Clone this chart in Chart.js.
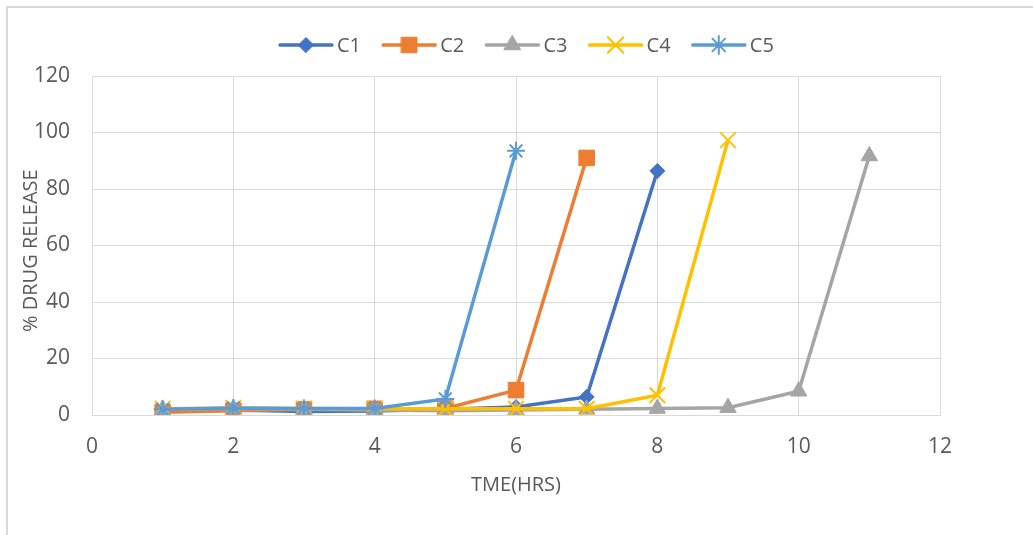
<!DOCTYPE html>
<html>
<head>
<meta charset="utf-8">
<script src="https://cdn.jsdelivr.net/npm/chart.js@4/dist/chart.umd.min.js"></script>
<style>
  body { margin: 0; background: #fff; }
  #wrap { position: relative; width: 1033px; height: 535px; }
</style>
</head>
<body>
<div id="wrap"><canvas id="releaseChart" width="1033" height="535"></canvas></div>
<script>
// datos
const horas = [1, 2, 3, 4, 5, 6, 7, 8, 9, 10, 11];
const series = ['C1', 'C2', 'C3', 'C4', 'C5'];
const c1 = [1.5, 1.8, 1.2, 1.4, 2.0, 2.8, 6.4, 86.4];
const c2 = [1.0, 1.5, 2.0, 2.2, 2.3, 8.8, 91.0];
const c3 = [2.0, 2.2, 2.0, 1.8, 1.5, 1.8, 2.0, 2.3, 2.6, 8.4, 91.7];
const c4 = [2.2, 2.5, 2.3, 2.2, 2.2, 2.2, 2.2, 7.0, 97.3];
const c5 = [2.0, 2.5, 2.3, 2.3, 5.7, 93.5];
const xTicks = [0, 2, 4, 6, 8, 10, 12];
const yTicks = [0, 20, 40, 60, 80, 100, 120];

const colores = ['#4472C4', '#ED7D31', '#A5A5A5', '#FFC000', '#5B9BD5'];
const estilos = ['rectRot', 'rect', 'triangle', 'crossRot', 'star'];
const radios = [7.5, 11, 9.5, 11, 9];
const fuente = "'Open Sans', 'Noto Sans', sans-serif";
const gris = '#d9d9d9';
const texto = '#595959';

function puntos(valores) {
    return valores.map((v, i) => ({ x: horas[i], y: v }));
}

const valores = [c1, c2, c3, c4, c5];
const datasets = series.map((nombre, i) => ({
    label: nombre,
    data: puntos(valores[i]),
    borderColor: colores[i],
    backgroundColor: colores[i],
    borderWidth: 3.5,
    pointStyle: estilos[i],
    pointRadius: radios[i],
    pointHoverRadius: radios[i],
    pointBorderWidth: (estilos[i] === 'crossRot' || estilos[i] === 'star') ? 2 : 1,
    order: series.length - i,
    tension: 0
}));

// marco exterior y leyenda dibujada a mano
const marcoYLeyenda = {
    id: 'marcoYLeyenda',
    beforeDraw(chart) {
        const ctx = chart.ctx;
        ctx.save();
        ctx.strokeStyle = gris;
        ctx.lineWidth = 2;
        ctx.beginPath();
        ctx.moveTo(7, 535);
        ctx.lineTo(7, 7);
        ctx.lineTo(1033, 7);
        ctx.stroke();
        ctx.restore();
    },
    afterDraw(chart) {
        const ctx = chart.ctx;
        const y = 45;
        ctx.save();
        series.forEach((nombre, i) => {
            const cx = 306 + i * 103.2;
            ctx.strokeStyle = colores[i];
            ctx.lineWidth = 3.5;
            ctx.lineCap = 'round';
            ctx.beginPath();
            ctx.moveTo(cx - 26, y);
            ctx.lineTo(cx + 26, y);
            ctx.stroke();
            ctx.fillStyle = colores[i];
            ctx.lineWidth = (estilos[i] === 'crossRot' || estilos[i] === 'star') ? 2 : 1;
            Chart.helpers.drawPoint(ctx, { pointStyle: estilos[i], radius: radios[i], borderWidth: ctx.lineWidth }, cx, y);
            ctx.fillStyle = texto;
            ctx.font = '20px ' + fuente;
            ctx.textAlign = 'left';
            ctx.textBaseline = 'middle';
            ctx.fillText(nombre, cx + 31, y + 1);
        });
        ctx.restore();
    }
};

const chart = new Chart(document.getElementById('releaseChart').getContext('2d'), {
    type: 'line',
    data: { datasets },
    options: {
        responsive: false,
        animation: false,
        layout: { padding: { top: 76, right: 93, left: 0, bottom: 0 } },
        plugins: {
            legend: { display: false },
            tooltip: { enabled: false }
        },
        scales: {
            x: {
                type: 'linear',
                min: xTicks[0],
                max: xTicks[xTicks.length - 1],
                afterBuildTicks: (scale) => { scale.ticks = xTicks.map(v => ({ value: v })); },
                afterFit: (scale) => { scale.height = 120; },
                grid: { color: gris, lineWidth: 1, drawTicks: false },
                border: { color: gris, width: 1 },
                ticks: { color: texto, font: { family: fuente, size: 21 }, padding: 19, maxRotation: 0 },
                title: {
                    display: true,
                    text: 'TME(HRS)',
                    color: texto,
                    font: { family: fuente, size: 20 },
                    padding: { top: 0, bottom: 38 }
                }
            },
            y: {
                min: yTicks[0],
                max: yTicks[yTicks.length - 1],
                afterBuildTicks: (scale) => { scale.ticks = yTicks.map(v => ({ value: v })); },
                afterFit: (scale) => { scale.width = 92; },
                grid: { color: gris, lineWidth: 1, drawTicks: false },
                border: { color: gris, width: 1 },
                ticks: { color: texto, font: { family: fuente, size: 21 }, padding: 22 },
                title: {
                    display: true,
                    text: '% DRUG RELEASE\u00a0\u00a0',
                    color: texto,
                    font: { family: fuente, size: 20 },
                    padding: { top: 19, bottom: 0 }
                }
            }
        }
    },
    plugins: [marcoYLeyenda]
});
</script>
</body>
</html>
